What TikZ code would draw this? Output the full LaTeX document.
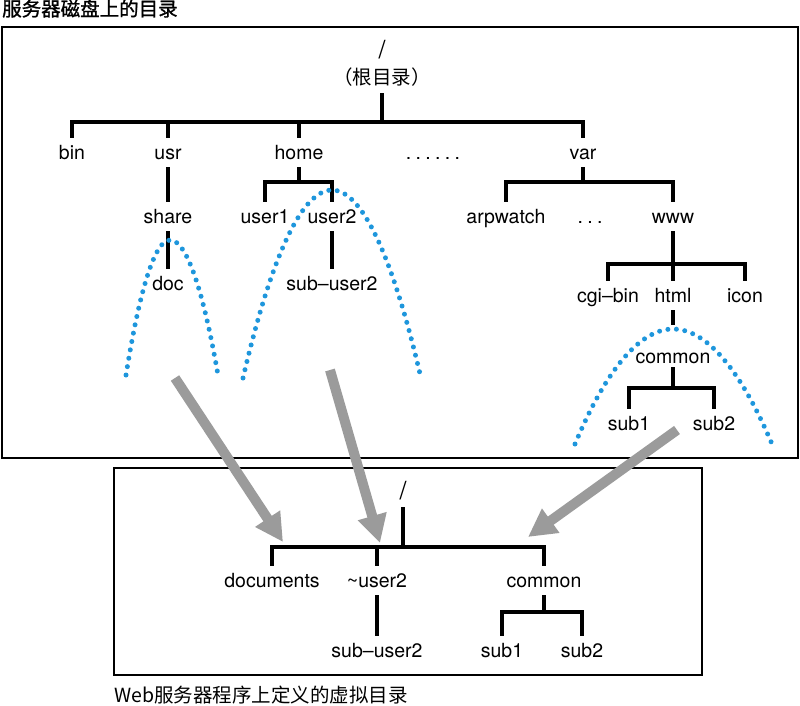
\documentclass[tikz,border=0pt]{standalone}
\usepackage{fontspec}
\setmainfont{TeX Gyre Heros}
\newfontfamily\cjk{Noto Sans CJK SC}
\newfontfamily\cjkhead{Noto Sans CJK SC}[FakeBold=1.2]
\usetikzlibrary{arrows.meta}

\definecolor{dotblue}{RGB}{30,150,220}
\definecolor{arrowgray}{RGB}{155,155,155}
\newcommand\dotgap{\hspace{4.3pt}}

\begin{document}
\begin{tikzpicture}[x=1pt, y=-1pt,
        folder/.style={inner sep=0pt, text height=14pt, text depth=4pt, font=\fontsize{19.5}{22}\selectfont},
        cjkfolder/.style={folder, font=\cjk\fontsize{19.5}{22}\selectfont},
        rootfolder/.style={folder, font=\fontsize{25}{28}\selectfont},
        heading/.style={anchor=base west, inner sep=0pt, font=\cjkhead\fontsize{19.5}{22}\selectfont},
        frame/.style={draw, line width=1.5pt},
        branch/.style={line width=4pt, shorten <=4pt, shorten >=7pt},
        zone/.style={dotblue, line width=5pt, line cap=round, dash pattern=on 0pt off 8.5pt},
        maps/.style={arrowgray, line width=10pt, -{Triangle[width=28pt,length=28pt]}}]
    \useasboundingbox (0,0) rectangle (800,706);

    % directories on the server disk
    \node[heading] (disktitle) at (2,16) {服务器磁盘上的目录};
    \draw[frame] (2,27) rectangle (798,458);

    \node[rootfolder] (root) at (382,54) {/};
    \node[cjkfolder] (rootnote) at (382,80) {（根目录）};
    \node[folder] (bin) at (72,154) {bin};
    \node[folder] (usr) at (168,154) {usr};
    \node[folder] (home) at (299,154) {home};
    \node[folder] (more) at (433,154) {.\dotgap.\dotgap.\dotgap.\dotgap.\dotgap.};
    \node[folder] (var) at (583,154) {var};
    \node[folder] (share) at (168,218) {share};
    \node[folder] (user1) at (265,218) {user1};
    \node[folder] (user2) at (332,218) {user2};
    \node[folder] (arpwatch) at (506,218) {arpwatch};
    \node[folder] (varmore) at (590,218) {.\dotgap.\dotgap.};
    \node[folder] (www) at (673,218) {www};
    \node[folder] (doc) at (168,285) {doc};
    \node[folder] (subuser2) at (332,285) {sub--user2};
    \node[folder] (cgibin) at (608,297) {cgi--bin};
    \node[folder] (html) at (673,297) {html};
    \node[folder] (icon) at (745,297) {icon};
    \node[folder] (common) at (673,358) {common};
    \node[folder] (sub1) at (629,425) {sub1};
    \node[folder] (sub2) at (714,425) {sub2};

    \coordinate (j-root) at (382,122);
    \coordinate (j-home) at (299,182);
    \coordinate (j-var) at (583,182);
    \coordinate (j-www) at (673,264);
    \coordinate (j-common) at (673,388);

    \foreach \child in {bin,usr,home,var}
        \draw[branch] (rootnote) -- (j-root) -| (\child);
    \draw[branch] (usr) -- (share);
    \draw[branch] (share) -- (doc);
    \foreach \child in {user1,user2}
        \draw[branch] (home) -- (j-home) -| (\child);
    \draw[branch] (user2) -- (subuser2);
    \foreach \child in {arpwatch,www}
        \draw[branch] (var) -- (j-var) -| (\child);
    \foreach \child in {cgibin,html,icon}
        \draw[branch] (www) -- (j-www) -| (\child);
    \draw[branch, shorten >=24pt] (html) -- (common);
    \foreach \child in {sub1,sub2}
        \draw[branch, shorten <=0pt] (common) -- (j-common) -| (\child);

    % published parts
    \draw[zone] (126,375) parabola bend (170,240) (218,375);
    \draw[zone] (243,378) parabola bend (332,190) (421,378);
    \draw[zone] (575,444) parabola bend (673,329) (772,444);

    % virtual directories of the web server
    \draw[frame] (114,468) rectangle (702,675);
    \node[heading, font=\cjk\fontsize{19.5}{22}\selectfont] (webtitle) at (114,702) {Web服务器程序上定义的虚拟目录};

    \node[rootfolder] (vroot) at (403,494) {/};
    \node[folder] (documents) at (272,582) {documents};
    \node[folder] (vuser2) at (377,582) {\textasciitilde user2};
    \node[folder] (vcommon) at (544,582) {common};
    \node[folder] (vsubuser2) at (377,652) {sub--user2};
    \node[folder] (vsub1) at (502,652) {sub1};
    \node[folder] (vsub2) at (582,652) {sub2};

    \coordinate (j-vroot) at (403,547);
    \coordinate (j-vcommon) at (544,612);

    \foreach \child in {documents,vuser2,vcommon}
        \draw[branch] (vroot) -- (j-vroot) -| (\child);
    \draw[branch] (vuser2) -- (vsubuser2);
    \foreach \child in {vsub1,vsub2}
        \draw[branch] (vcommon) -- (j-vcommon) -| (\child);

    % mapping
    \coordinate (from-share) at (175,378);
    \coordinate (to-documents) at (283,542);
    \coordinate (from-user2) at (330,370);
    \coordinate (to-user2) at (380,543);
    \coordinate (from-common) at (677,430);
    \coordinate (to-common) at (528,537);
    \draw[maps] (from-share) -- (to-documents);
    \draw[maps] (from-user2) -- (to-user2);
    \draw[maps] (from-common) -- (to-common);
\end{tikzpicture}
\end{document}
